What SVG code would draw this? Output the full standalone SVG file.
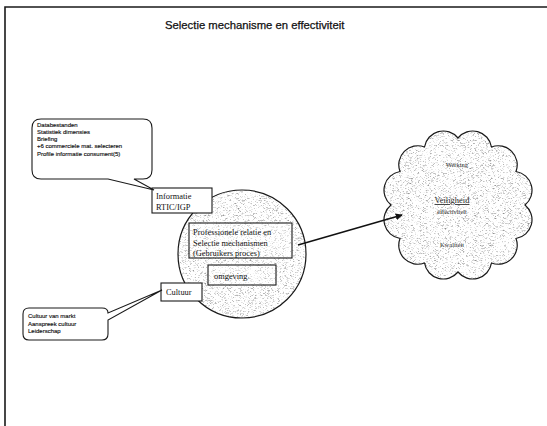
<svg xmlns="http://www.w3.org/2000/svg" width="547" height="426" viewBox="0 0 547 426">
  <style>
    .frame { stroke: #1a1a1a; stroke-width: 1.6; fill: none; }
    .edge { stroke: #1a1a1a; stroke-width: 1.2; fill: none; }
    .box { stroke: #1a1a1a; stroke-width: 1.1; fill: #fff; }
    .inbox { stroke: #1a1a1a; stroke-width: 1.1; fill: #fff; fill-opacity: 0.3; }
    .sans { font-family: "Liberation Sans", Arial, sans-serif; fill: #111; }
    .serif { font-family: "Liberation Serif", "Times New Roman", serif; fill: #111; }
    .title { font-size: 11.3px; stroke: #111; stroke-width: 0.25; }
    .note { font-size: 6px; stroke: #111; stroke-width: 0.15; }
    .lbl { font-size: 8.4px; }
    .cloudtxt { font-family: "Liberation Serif", "Times New Roman", serif; fill: #2a2a2a; }
  </style>
  <defs>
    <filter id="grain" color-interpolation-filters="sRGB">
      <feTurbulence type="fractalNoise" baseFrequency="0.6 1.6" numOctaves="1" seed="7" result="n"/>
      <feColorMatrix in="n" type="matrix" values="1.5 0 0 0 0.3  1.5 0 0 0 0.3  1.5 0 0 0 0.3  0 0 0 0 1" result="g"/>
      <feComposite in="g" in2="SourceGraphic" operator="in"/>
    </filter>
    <marker id="arrow" viewBox="0 0 10 10" refX="9" refY="5" markerWidth="7" markerHeight="7" markerUnits="userSpaceOnUse" orient="auto">
      <path d="M0,0 L10,5 L0,10 Z" fill="#111"/>
    </marker>
  </defs>

  <rect width="547" height="426" fill="#fff"/>

  <!-- page frame -->
  <path class="frame" d="M5,426 V7 H547"/>

  <text class="sans title" x="165" y="28.5">Selectie mechanisme en effectiviteit</text>

  <!-- central circle -->
  <g id="proces">
    <circle cx="242" cy="254" r="64" fill="#fff" filter="url(#grain)"/>
    <circle cx="242" cy="254" r="64" class="edge"/>
    <rect class="inbox" x="189" y="223" width="103" height="35"/>
    <text class="serif lbl" x="193" y="235">Professionele relatie en</text>
    <text class="serif lbl" x="193" y="246">Selectie mechanismen</text>
    <text class="serif lbl" x="193" y="256">(Gebruikers proces)</text>
  </g>

  <g id="omgeving">
    <rect class="inbox" x="208" y="265" width="68" height="20"/>
    <text class="serif lbl" x="214" y="279">omgeving</text>
  </g>

  <g id="informatie">
    <rect class="box" x="152" y="188" width="60" height="25"/>
    <text class="serif lbl" x="156" y="199">Informatie</text>
    <text class="serif lbl" x="156" y="210">RTIC/IGP</text>
  </g>

  <g id="cultuur">
    <rect class="box" x="161" y="283" width="41" height="18"/>
    <text class="serif lbl" x="166" y="295">Cultuur</text>
  </g>

  <!-- callout with information sources -->
  <g id="bronnen">
    <path class="box" d="M41,119 H143 Q152,119 152,128 V170 Q152,179 143,179 H134 L154,190 L108,179 H41 Q32,179 32,170 V128 Q32,119 41,119 Z"/>
    <text class="sans note" x="37" y="126.5">Databestanden</text>
    <text class="sans note" x="37" y="133.8">Statistiek dimensies</text>
    <text class="sans note" x="37" y="141">Briefing</text>
    <text class="sans note" x="37" y="148.3">+6 commerciele mat. selecteren</text>
    <text class="sans note" x="37" y="155.5">Profile informatie consument(5)</text>
  </g>

  <!-- callout with culture aspects -->
  <g id="cultuuraspecten">
    <path class="box" d="M29,308 H102 Q108,308 108,313 L162,290 L108,320 V334 Q108,340 102,340 H29 Q23,340 23,334 V314 Q23,308 29,308 Z"/>
    <text class="sans note" x="28" y="318">Cultuur van markt</text>
    <text class="sans note" x="28" y="325.5">Aanspreek cultuur</text>
    <text class="sans note" x="28" y="333">Leiderschap</text>
  </g>

  <!-- outcome cloud -->
  <g id="resultaat">
    <path fill="#fff" filter="url(#grain)" d="M525,205 A19,19 0 0 1 516,238.5 A19,19 0 0 1 491.5,263 A19,19 0 0 1 458,272 A19,19 0 0 1 424.5,263 A19,19 0 0 1 400,238.5 A19,19 0 0 1 391,205 A19,19 0 0 1 400,171.5 A19,19 0 0 1 424.5,147 A19,19 0 0 1 458,138 A19,19 0 0 1 491.5,147 A19,19 0 0 1 516,171.5 A19,19 0 0 1 525,205 Z"/>
    <path class="edge" d="M525,205 A19,19 0 0 1 516,238.5 A19,19 0 0 1 491.5,263 A19,19 0 0 1 458,272 A19,19 0 0 1 424.5,263 A19,19 0 0 1 400,238.5 A19,19 0 0 1 391,205 A19,19 0 0 1 400,171.5 A19,19 0 0 1 424.5,147 A19,19 0 0 1 458,138 A19,19 0 0 1 491.5,147 A19,19 0 0 1 516,171.5 A19,19 0 0 1 525,205 Z"/>
    <text class="cloudtxt" font-size="6.5" x="457" y="167" text-anchor="middle">Werking</text>
    <text class="cloudtxt" font-size="8.5" x="452" y="203" text-anchor="middle" text-decoration="underline">Veiligheid</text>
    <text class="cloudtxt" font-size="6.5" x="452" y="214" text-anchor="middle">effectiviteit</text>
    <text class="cloudtxt" font-size="6.5" x="452" y="247" text-anchor="middle">Kwaliteit</text>
  </g>

  <g id="connectors">
    <line x1="298" y1="245" x2="402" y2="215" stroke="#111" stroke-width="1.5" marker-end="url(#arrow)"/>
  </g>
</svg>
